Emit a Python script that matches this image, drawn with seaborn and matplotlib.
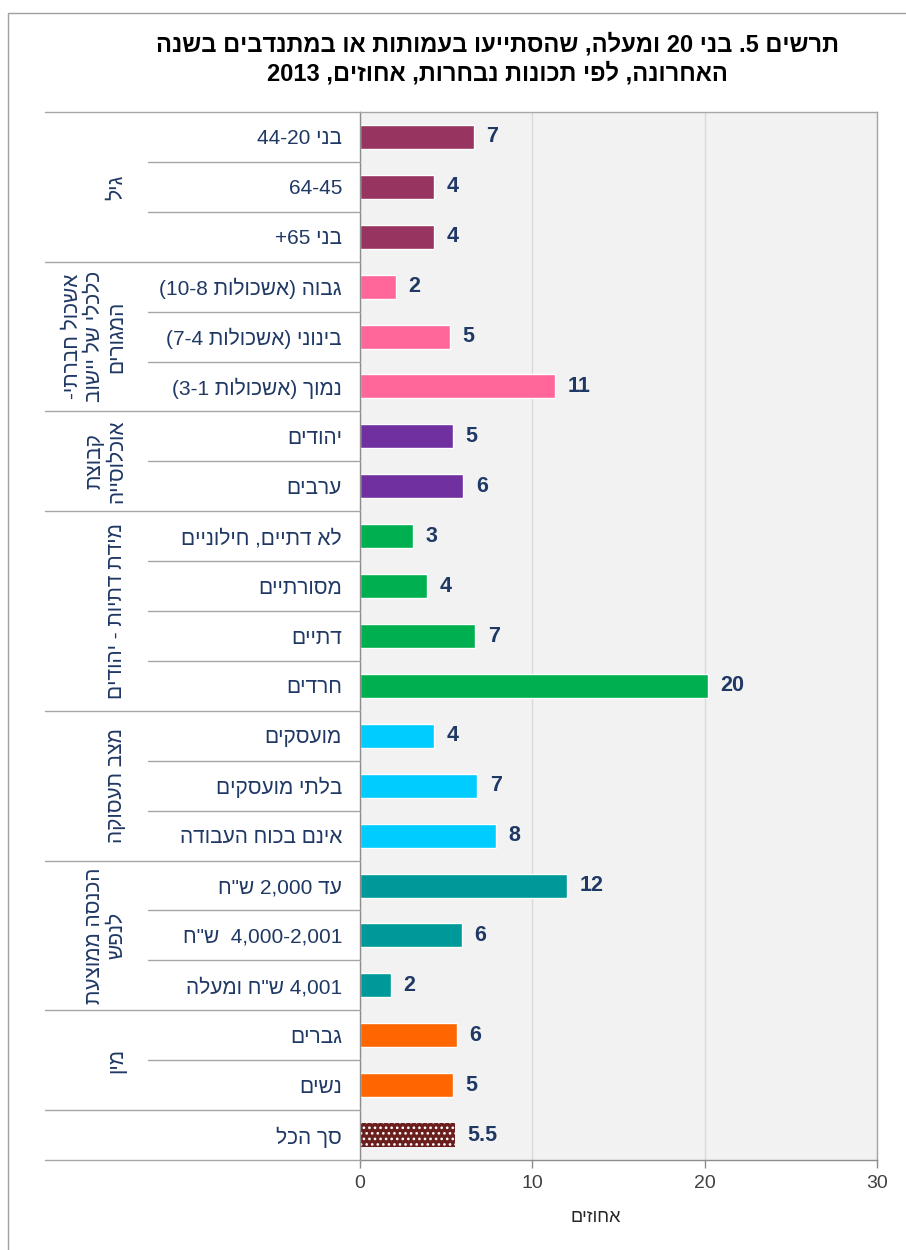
import re
import matplotlib
matplotlib.use('Agg')
import matplotlib.pyplot as plt
import matplotlib.transforms as mtransforms
from matplotlib.lines import Line2D
from matplotlib.patches import Rectangle
import pandas as pd
import seaborn as sns

# chart data
title_lines = ["תרשים 5. בני 20 ומעלה, שהסתייעו בעמותות או במתנדבים בשנה",
               "האחרונה, לפי תכונות נבחרות, אחוזים, 2013"]
categories = ["בני 44-20", "64-45", "בני 65+",
              "גבוה (אשכולות 10-8)", "בינוני (אשכולות 7-4)", "נמוך (אשכולות 3-1)",
              "יהודים", "ערבים",
              "לא דתיים, חילוניים", "מסורתיים", "דתיים", "חרדים",
              "מועסקים", "בלתי מועסקים", "אינם בכוח העבודה",
              "עד 2,000 ש\"ח", "4,000-2,001  ש\"ח", "4,001 ש\"ח ומעלה",
              "גברים", "נשים",
              "סך הכל"]
values = [6.6, 4.3, 4.3, 2.1, 5.2, 11.3, 5.4, 6.0, 3.1, 3.9, 6.7, 20.2,
          4.3, 6.8, 7.9, 12.0, 5.9, 1.8, 5.6, 5.4, 5.5]
value_labels = ["7", "4", "4", "2", "5", "11", "5", "6", "3", "4", "7", "20",
                "4", "7", "8", "12", "6", "2", "6", "5", "5.5"]
group_labels = ["גיל", "אשכול חברתי-\nכלכלי של יישוב\nהמגורים", "קבוצת\nאוכלוסייה",
                "מידת דתיות - יהודים", "מצב תעסוקה", "הכנסה ממוצעת\nלנפש", "מין", ""]
group_sizes = [3, 3, 2, 4, 3, 3, 2, 1]
group_colors = ["#97345F", "#FF6699", "#7030A0", "#00B050", "#00CCFF", "#009999",
                "#FF6600", "#6B1E1E"]
x_label = "אחוזים"

MIRROR = str.maketrans("()", ")(")


def heb(s):
    # very small bidi: reverse hebrew runs, keep number runs left-to-right
    runs = re.findall(r'[0-9][0-9,.\-]*[0-9]|[0-9]|[^0-9]+', s)
    out = []
    for r in reversed(runs):
        if r[0].isdigit():
            out.append(r)
        else:
            out.append(r[::-1].translate(MIRROR))
    return ''.join(out)


def heb_lines(s):
    return '\n'.join(heb(l) for l in s.split('\n'))


groups = []
for gi, n in enumerate(group_sizes):
    groups += ["g%d" % gi] * n
df = pd.DataFrame({"cat": categories, "val": values, "grp": groups})
palette = {"g%d" % i: c for i, c in enumerate(group_colors)}

sns.set_style("white")
plt.rcParams['font.family'] = ['Liberation Sans', 'DejaVu Sans']
plt.rcParams['hatch.linewidth'] = 1.1

navy = "#1F3864"
W, H = 906, 1250
fig = plt.figure(figsize=(W / 100, H / 100), dpi=100)
ax = fig.add_axes([360 / W, 1 - 1160 / H, 517 / W, 1048 / H])
ax.set_facecolor("#F2F2F2")

sns.barplot(data=df, y="cat", x="val", hue="grp", palette=palette, dodge=False,
            legend=False, width=0.48, orient="h", ax=ax, saturation=1)

for p in ax.patches:
    yc = p.get_y() + p.get_height() / 2
    if abs(yc - 20) < 0.3:
        p.set_hatch('...')
        p.set_edgecolor('white')
        p.set_linewidth(0)

for i, (v, lab) in enumerate(zip(values, value_labels)):
    ax.annotate(lab, (v, i), xytext=(9, 0), textcoords='offset points',
                ha='left', va='center', fontsize=15.5, fontweight='bold', color=navy)

ax.set_xlim(0, 30)
ax.set_ylim(len(categories) - 0.5, -0.5)
ax.set_xticks([0, 10, 20, 30])
ax.xaxis.grid(True, color="#D9D9D9", lw=1)
ax.set_axisbelow(True)
ax.set_yticks(range(len(categories)))
ax.set_yticklabels([heb(c) for c in categories])
ax.tick_params(axis='y', length=0, pad=13, labelsize=15, labelcolor=navy)
ax.tick_params(axis='x', length=6, width=1, color="#8C8C8C", pad=5,
               labelsize=14, labelcolor="#404040", bottom=True)
ax.set_ylabel("")
ax.set_xlabel(heb(x_label), fontsize=13, color="#262626")
ax.xaxis.set_label_coords(0.455, -0.047)
for s in ax.spines.values():
    s.set_color("#A6A6A6")
    s.set_linewidth(1)
ax.spines['left'].set_color("#8C8C8C")
ax.spines['bottom'].set_color("#8C8C8C")

# separators and group labels on the left
trans = mtransforms.blended_transform_factory(fig.transFigure, ax.transData)
line_col = "#A6A6A6"
fig.add_artist(Line2D([45 / W, 360 / W], [-0.5, -0.5], transform=trans, color=line_col, lw=1))
start = 0
for gi, n in enumerate(group_sizes):
    for k in range(1, n):
        yb = start + k - 0.5
        fig.add_artist(Line2D([148 / W, 360 / W], [yb, yb], transform=trans,
                              color=line_col, lw=1))
    yb = start + n - 0.5
    fig.add_artist(Line2D([45 / W, 360 / W], [yb, yb], transform=trans, color=line_col, lw=1))
    if group_labels[gi]:
        fig.text(126 / W, start + (n - 1) / 2, heb_lines(group_labels[gi]), transform=trans,
                 rotation=90, ha='right', va='center', fontsize=15, color=navy,
                 linespacing=1.2, multialignment='center')
    start += n

fig.text(497 / W, 1 - 59 / H, '\n'.join(heb(l) for l in title_lines), ha='center',
         va='center', fontsize=17, fontweight='bold', color='black', linespacing=1.3)

fig.add_artist(Rectangle((8 / W, -0.01), 1.0, 1 - 13 / H + 0.01, transform=fig.transFigure,
                         fill=False, edgecolor="#A0A0A0", lw=1))

fig.savefig("out.png", dpi=100)
